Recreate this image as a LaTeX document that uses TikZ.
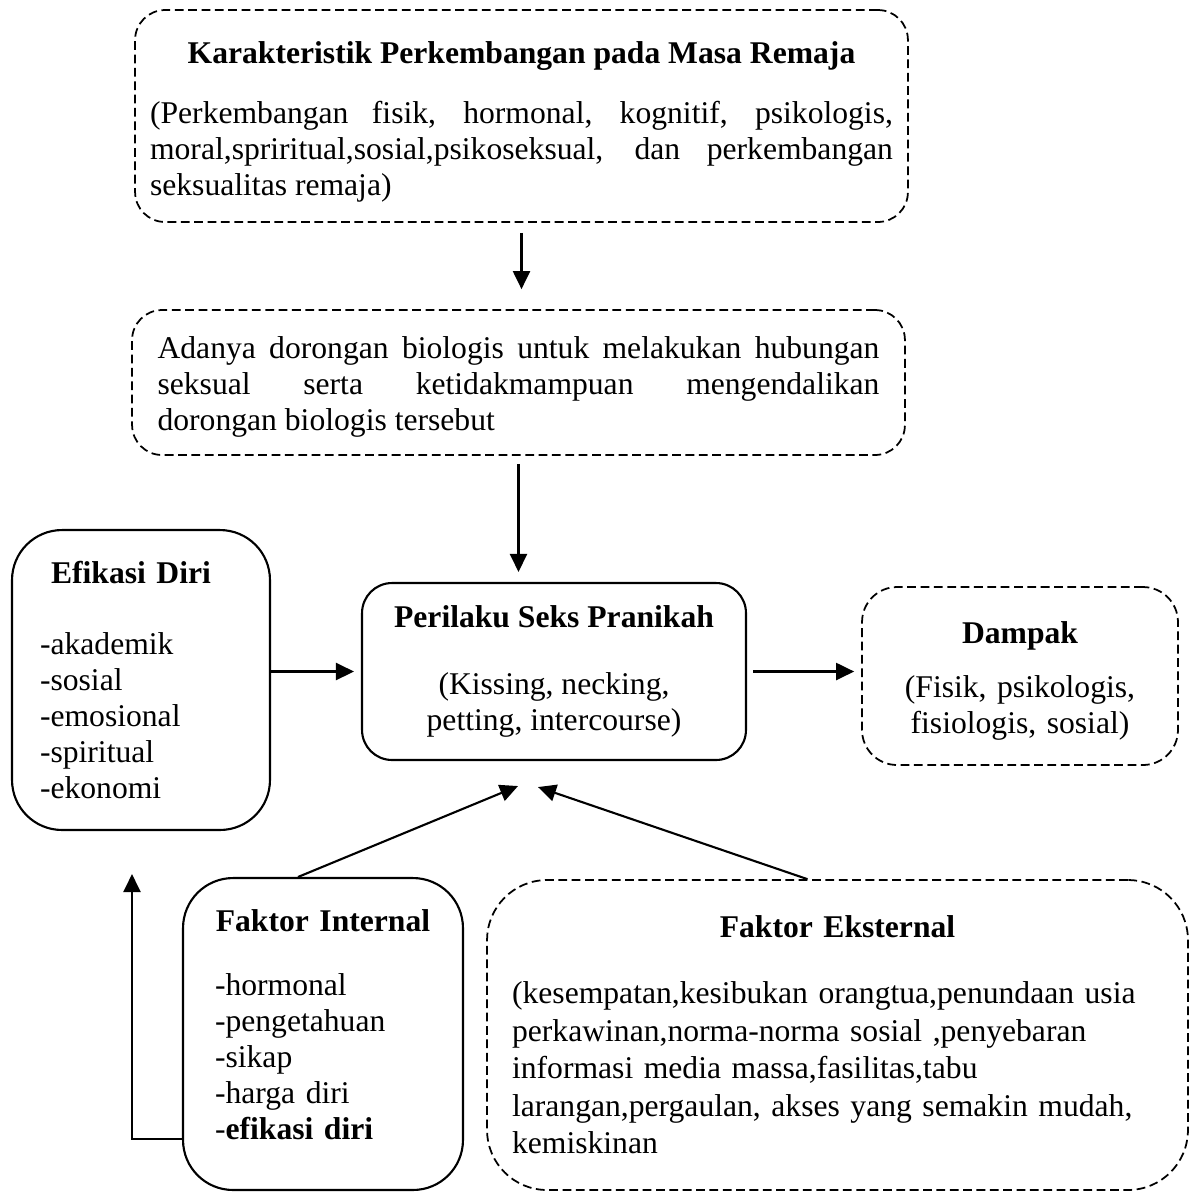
\documentclass[tikz,border=0pt]{standalone}
\usepackage{fontspec}
\setmainfont{Liberation Serif}
\usetikzlibrary{arrows.meta, positioning}

\begin{document}
\begin{tikzpicture}[x=0.02cm, y=-0.02cm,
  >={Triangle[length=0.36cm, width=0.34cm]},
  kotak/.style={draw, line width=1.2pt, inner sep=0pt, font=\fontsize{18}{20.5}\selectfont},
  putus/.style={kotak, line width=1pt, dash pattern=on 5pt off 2.6pt},
  panah/.style={->, line width=1.2pt}]
\useasboundingbox (0,0) rectangle (1192,1191);

% kotak-kotak
\node[putus, rounded corners=0.6cm, minimum width=15.46cm, minimum height=4.24cm, text width=14.86cm, align=justify] (kar) at (521.5,116)
  {\makebox[\linewidth]{\textbf{Karakteristik Perkembangan pada Masa Remaja}}\\[14pt]
   (Perkembangan fisik, hormonal, kognitif, psikologis,\linebreak moral,spriritual,sosial,psikoseksual, dan perkembangan\linebreak seksualitas remaja)\par\vspace{-0.24cm}\hrule height 0pt};
\node[putus, rounded corners=0.6cm, minimum width=15.46cm, minimum height=2.9cm, text width=14.44cm, align=justify] (dorongan) at (518.5,382.5)
  {Adanya dorongan biologis untuk melakukan hubungan\linebreak seksual serta ketidakmampuan mengendalikan\linebreak dorongan biologis tersebut\par\vspace{-0.16cm}\hrule height 0pt};
\node[kotak, rounded corners=0.6cm, minimum width=7.68cm, minimum height=3.54cm, align=center] (perilaku) at (554,671.5)
  {\textbf{Perilaku Seks Pranikah}\\[18pt] (Kissing, necking,\\ petting, intercourse)};
\node[kotak, rounded corners=1cm, minimum width=5.16cm, minimum height=6cm, text width=4.04cm, align=left] (efikasi) at (141,680)
  {\makebox[3.64cm]{\textbf{Efikasi Diri}}\\[20pt] -akademik\\ -sosial\\ -emosional\\ -spiritual\\ -ekonomi};
\node[putus, rounded corners=0.7cm, minimum width=6.32cm, minimum height=3.56cm, text width=5.6cm, align=center] (dampak) at (1020,676)
  {\textbf{Dampak}\\[10pt] (Fisik, psikologis,\\ fisiologis, sosial)\par\vspace{-0.2cm}\hrule height 0pt};
\node[kotak, rounded corners=1cm, minimum width=5.6cm, minimum height=6.24cm, text width=4.32cm, align=left] (internal) at (323,1034)
  {\makebox[\linewidth]{\textbf{Faktor Internal}}\\[16pt] -hormonal\\ -pengetahuan\\ -sikap\\ -harga diri\\ -\textbf{efikasi diri}\par\vspace{0.36cm}\hrule height 0pt};
\node[putus, rounded corners=1.2cm, minimum width=14.02cm, minimum height=6.2cm, text width=13.02cm, align=left, font=\fontsize{18}{21.4}\selectfont] (eksternal) at (837.5,1035)
  {\makebox[\linewidth]{\textbf{Faktor Eksternal}}\\[16pt]
   (kesempatan,kesibukan orangtua,penundaan usia\\ perkawinan,norma-norma sosial ,penyebaran\\ informasi media massa,fasilitas,tabu\\ larangan,pergaulan, akses yang semakin mudah,\\ kemiskinan};

% panah
\draw[panah, shorten <=0.2cm, shorten >=0.4cm] (kar.south) -- (kar.south |- dorongan.north);
\draw[panah, shorten <=0.16cm, shorten >=0.2cm] (dorongan.south) -- (dorongan.south |- perilaku.north);
\draw[panah, shorten >=0.14cm] (efikasi.east |- perilaku.west) -- (perilaku.west);
\draw[panah, shorten <=0.12cm, shorten >=0.14cm] (perilaku.east) -- (perilaku.east -| dampak.west);
\draw[panah] ([shift={(-25,0)}]internal.north) -- ([shift={(-36,25)}]perilaku.south);
\draw[panah] ([shift={(-30,0)}]eksternal.north) -- ([shift={(-16,26)}]perilaku.south);
\draw[panah] ([shift={(0,105)}]internal.west) -| ([shift={(-9,43)}]efikasi.south);
\end{tikzpicture}
\end{document}
